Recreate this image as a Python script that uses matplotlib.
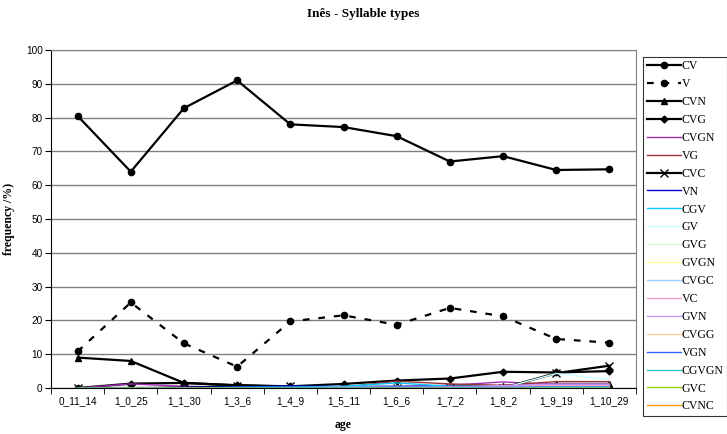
import matplotlib.pyplot as plt
import numpy as np

ages = ['0_11_14', '1_0_25', '1_1_30', '1_3_6', '1_4_9', '1_5_11',
        '1_6_6', '1_7_2', '1_8_2', '1_9_19', '1_10_29']

cv = [80.5, 64.0, 82.8, 91.0, 78.0, 77.2, 74.5, 67.0, 68.6, 64.5, 64.7]
v = [10.8, 25.3, 13.2, 6.3, 19.7, 21.5, 18.7, 23.7, 21.2, 14.5, 13.4]
cvn = [9.0, 8.0, 1.5, 0.8, 0.3, 0.3, 0.3, 0.5, 0.5, 1.2, 1.2]
cvg = [0.0, 1.3, 1.5, 0.8, 0.5, 1.2, 2.2, 2.8, 4.8, 4.6, 5.0]
cvgn = [0.0, 1.2, 0.5, 0.3, 0.2, 0.3, 0.5, 0.8, 1.8, 1.0, 1.0]
vg = [0.0, 0.0, 0.3, 0.3, 0.2, 0.3, 2.0, 1.2, 0.8, 1.9, 1.9]
cvc = [0.0, 0.0, 0.0, 0.7, 0.5, 0.0, 0.0, 0.0, 0.0, 4.4, 6.6]
vn = [0.0, 0.0, 0.2, 0.3, 0.6, 0.4, 0.5, 0.4, 0.3, 0.6, 0.5]
cgv = [0.0, 0.0, 0.0, 0.2, 0.3, 0.5, 1.5, 0.5, 0.5, 0.8, 0.8]
gv = [0.0, 0.0, 0.0, 0.0, 0.0, 0.3, 0.5, 0.3, 0.0, 4.3, 2.5]
gvg = [0.0, 0.0, 0.0, 0.0, 0.0, 0.0, 0.2, 0.0, 0.0, 0.2, 0.2]
gvgn = [0.0] * 11
cvgc = [0.0, 0.0, 0.0, 0.0, 0.0, 0.2, 0.3, 0.2, 0.3, 0.5, 0.3]
vc = [0.0, 0.0, 0.0, 0.0, 0.0, 0.0, 0.2, 0.3, 0.5, 0.8, 0.8]
gvn = [0.0, 0.0, 0.0, 0.0, 0.0, 0.0, 0.3, 0.3, 0.7, 1.2, 1.2]
cvgg = [0.0, 0.0, 0.0, 0.0, 0.0, 0.0, 0.0, 0.2, 0.0, 0.2, 0.2]
vgn = [0.0, 0.0, 0.0, 0.0, 0.2, 0.2, 0.3, 0.2, 0.2, 0.3, 0.3]
cgvgn = [0.0, 0.0, 0.0, 0.0, 0.0, 0.0, 0.0, 0.0, 0.0, 0.2, 0.2]
gvc = [0.0] * 11
cvnc = [0.0] * 11

# (label, values, color, linestyle, marker, linewidth)
series = [
    ('CV', cv, 'black', '-', 'o', 1.6),
    ('V', v, 'black', (0, (3, 4)), 'o', 1.6),
    ('CVN', cvn, 'black', '-', '^', 1.6),
    ('CVG', cvg, 'black', '-', 'D', 1.6),
    ('CVGN', cvgn, '#a030b0', '-', None, 1.0),
    ('VG', vg, '#993333', '-', None, 1.0),
    ('CVC', cvc, 'black', '-', 'x', 1.6),
    ('VN', vn, '#0000cc', '-', None, 1.0),
    ('CGV', cgv, '#00ccff', '-', None, 1.0),
    ('GV', gv, '#ccffff', '-', None, 1.0),
    ('GVG', gvg, '#ccffcc', '-', None, 1.0),
    ('GVGN', gvgn, '#ffff99', '-', None, 1.0),
    ('CVGC', cvgc, '#99ccff', '-', None, 1.0),
    ('VC', vc, '#ff99cc', '-', None, 1.0),
    ('GVN', gvn, '#cc99ff', '-', None, 1.0),
    ('CVGG', cvgg, '#ffcc99', '-', None, 1.0),
    ('VGN', vgn, '#3366ff', '-', None, 1.0),
    ('CGVGN', cgvgn, '#33cccc', '-', None, 1.0),
    ('GVC', gvc, '#99cc00', '-', None, 1.0),
    ('CVNC', cvnc, '#ff9900', '-', None, 1.0),
]

fig = plt.figure(figsize=(7.27, 4.34), dpi=100)
ax = fig.add_axes([51 / 727, 1 - 388 / 434, 585 / 727, 338 / 434])

x = np.arange(len(ages))
for label, vals, color, ls, marker, lw in series:
    ms = 4.5
    if marker == 'D':
        ms = 3.5
    elif marker == 'x':
        ms = 6
    ax.plot(x, vals, color=color, linestyle=ls, marker=marker, lw=lw,
            markersize=ms, markeredgewidth=1.0, label=label)

ax.set_xlim(-0.5, len(ages) - 0.5)
ax.set_ylim(0, 100)
ax.set_yticks(np.arange(0, 101, 10))
ax.yaxis.grid(True, color='#808080', lw=1.0)
ax.set_axisbelow(True)
ax.set_xticks(x)
ax.set_xticklabels(ages)
ax.set_xticks(np.arange(-0.5, len(ages)), minor=True)
ax.tick_params(axis='x', which='major', length=0, pad=6)
ax.tick_params(axis='x', which='minor', length=4, direction='out')
ax.tick_params(axis='y', length=4, direction='out', pad=2)
for lab in ax.get_xticklabels() + ax.get_yticklabels():
    lab.set_family('Liberation Sans')
    lab.set_fontsize(7.2)

for side in ['top', 'right']:
    ax.spines[side].set_color('#808080')
ax.spines['left'].set_color('black')
ax.spines['bottom'].set_color('black')

ax.set_xlabel('age', family='Liberation Serif', fontweight='bold', fontsize=8.5, labelpad=9)
ax.set_ylabel('frequency /%)', family='Liberation Serif', fontweight='bold', fontsize=8.5, labelpad=8)
fig.suptitle('Inês - Syllable types', family='Liberation Serif', fontweight='bold',
             fontsize=9.5, y=1 - 14 / 434, va='center')

leg = fig.legend(loc='lower left', bbox_to_anchor=(643 / 727, 1 - 416 / 434),
                 prop={'family': 'Liberation Serif', 'size': 8.5},
                 frameon=True, fancybox=False, edgecolor='black',
                 handlelength=2.9, handletextpad=0.1, labelspacing=0.5,
                 borderpad=0.3, borderaxespad=0)
leg.get_frame().set_linewidth(0.8)

fig.savefig('out.png', dpi=100)
